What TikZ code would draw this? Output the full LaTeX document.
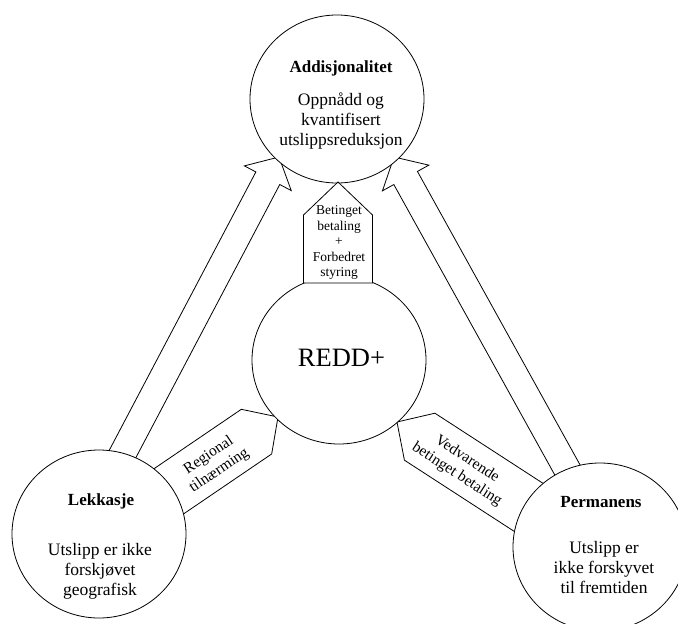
\documentclass[tikz,border=0pt]{standalone}
\usepackage{fontspec}
\setmainfont{Liberation Serif}
\usetikzlibrary{calc,shapes.geometric}
% #1 style, #2 tail, #3 tip, #4 half shaft width, #5 half head width, #6 head length
\newcommand\blockarr[6]{%
  \coordinate (bah) at ($(#3)!#6!(#2)$);
  \draw[#1] ($(#2)!#4!90:(#3)$) -- ($(bah)!#4!90:(#3)$) -- ($(bah)!#5!90:(#3)$) -- (#3)
    -- ($(bah)!#5!-90:(#3)$) -- ($(bah)!#4!-90:(#3)$) -- ($(#2)!#4!-90:(#3)$) -- cycle;
}
\begin{document}
\begin{tikzpicture}[x=1pt,y=-1pt,
  blockshape/.style={draw=black, fill=white, line width=0.8pt, line join=miter},
  bub/.style={ellipse, draw=black, fill=white, line width=0.8pt, minimum width=174pt, minimum height=168pt, inner sep=0pt},
  title/.style={font=\fontsize{17}{20}\selectfont\bfseries, inner sep=0pt},
  body/.style={font=\fontsize{17.5}{20}\selectfont, align=center, inner sep=0pt},
  ptxt/.style={font=\fontsize{15.5}{18.5}\selectfont, align=center, inner sep=0pt},
  ptxtb/.style={font=\fontsize{13.5}{15.4}\selectfont, align=center, inner sep=0pt}]
\useasboundingbox (0,0) rectangle (678,624);
\clip (0,0) rectangle (678,624);
% arrow end points
\coordinate (laTail) at (102,493);
\coordinate (laTip) at (279,157);
\coordinate (raTail) at (578,489);
\coordinate (raTip) at (394,157);
\coordinate (lpTail) at (136.9,513);
\coordinate (lpTip) at (278,417);
\coordinate (rpTail) at (558.6,526.8);
\coordinate (rpTip) at (397,422);
\coordinate (tpTail) at (338,283);
\coordinate (tpTip) at (338,182);
% big arrows
\blockarr{blockshape}{laTail}{laTip}{13.5pt}{26.5pt}{24pt}
\blockarr{blockshape}{raTail}{raTip}{13.5pt}{26.5pt}{24pt}
% side pentagons
\blockarr{blockshape}{lpTail}{lpTip}{27pt}{27pt}{26pt}
\blockarr{blockshape}{rpTail}{rpTip}{28pt}{28pt}{27pt}
% circles
\node[bub] (redd) at (339,360) {};
\node[bub] (add) at (337,99) {};
\node[bub] (lek) at (99,534) {};
\node[bub] (perm) at (600,547) {};
% top pentagon
\blockarr{blockshape}{tpTail}{tpTip}{34.5pt}{34.5pt}{33pt}
% texts (multi-line nodes: base = last line)
\node[title, anchor=base] (addT) at (341,72) {Addisjonalitet};
\node[body, anchor=base] (addB) at (341,145) {Oppnådd og\\kvantifisert\\utslippsreduksjon};
\node[font=\fontsize{26.5}{30}\selectfont, inner sep=0pt, anchor=base] (reddT) at (341.5,366) {REDD+};
\node[title, anchor=base] (lekT) at (101,505) {Lekkasje};
\node[body, anchor=base] (lekB) at (100,595) {Utslipp er ikke\\forskjøvet\\geografisk};
\node[title, anchor=base] (permT) at (601,507) {Permanens};
\node[body, anchor=base] (permB) at (604,593) {Utslipp er\\ikke forskyvet\\til fremtiden};
\node[ptxtb, anchor=base] (tpT) at (339,276.5) {Betinget\\betaling\\+\\Forbedret\\styring};
\node[ptxt, rotate=34] (lpT) at (214,463) {Regional\\tilnærming};
\node[ptxt, rotate=-33] (rpT) at (462,467) {Vedvarende\\betinget betaling};
\end{tikzpicture}
\end{document}
